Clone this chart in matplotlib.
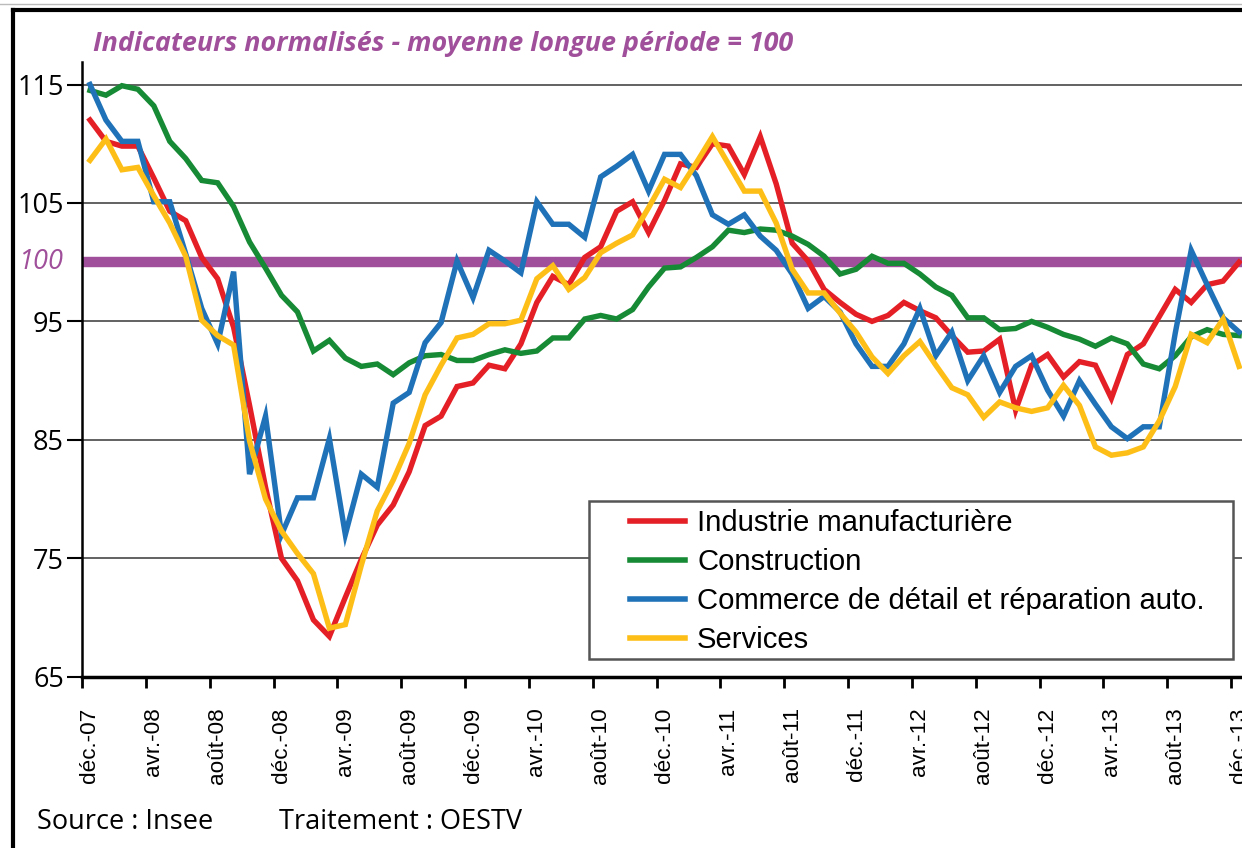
import numpy as np
import matplotlib
matplotlib.use("Agg")
import matplotlib.pyplot as plt
from matplotlib.lines import Line2D
from matplotlib.patches import Rectangle

# monthly values, déc. 2007 -> déc. 2013 (73 months)
industrie = [112.0, 110.2, 109.8, 109.8, 107.1, 104.3, 103.5, 100.4, 98.6, 94.5,
             87.9, 81.0, 75.0, 73.1, 69.8, 68.4, 71.7, 74.9, 77.8, 79.5,
             82.3, 86.2, 87.0, 89.5, 89.8, 91.3, 91.0, 93.1, 96.6, 98.8,
             98.1, 100.4, 101.3, 104.3, 105.1, 102.5, 105.2, 108.3, 108.0, 110.0,
             109.8, 107.4, 110.6, 106.6, 101.6, 100.1, 97.7, 96.6, 95.6, 95.0,
             95.5, 96.6, 95.9, 95.3, 93.8, 92.4, 92.5, 93.5, 87.5, 91.3,
             92.2, 90.3, 91.6, 91.3, 88.5, 92.2, 93.1, 95.4, 97.7, 96.6,
             98.1, 98.4, 100.0]
construction = [114.5, 114.1, 114.9, 114.6, 113.2, 110.2, 108.75, 106.9, 106.7, 104.7,
                101.7, 99.5, 97.2, 95.8, 92.5, 93.4, 91.9, 91.2, 91.4, 90.5,
                91.5, 92.1, 92.2, 91.7, 91.7, 92.2, 92.6, 92.3, 92.5, 93.6,
                93.6, 95.2, 95.5, 95.2, 96.0, 97.9, 99.5, 99.6, 100.4, 101.3,
                102.7, 102.5, 102.8, 102.7, 102.2, 101.5, 100.5, 99.0, 99.4, 100.5,
                99.9, 99.9, 99.0, 97.9, 97.2, 95.3, 95.3, 94.3, 94.4, 95.0,
                94.5, 93.9, 93.5, 92.9, 93.6, 93.1, 91.4, 91.0, 92.1, 93.7,
                94.3, 93.9, 93.8]
commerce = [115.0, 112.0, 110.2, 110.2, 105.1, 105.1, 100.7, 96.1, 93.1, 99.2,
            82.1, 87.0, 77.0, 80.1, 80.1, 85.1, 77.0, 82.1, 81.0, 88.1,
            89.0, 93.2, 94.9, 100.1, 97.0, 101.0, 100.1, 99.1, 105.1, 103.2,
            103.2, 102.1, 107.2, 108.1, 109.1, 106.0, 109.1, 109.1, 107.3, 104.0,
            103.2, 104.0, 102.2, 101.0, 99.0, 96.1, 97.1, 95.8, 93.1, 91.2,
            91.2, 93.1, 96.1, 92.1, 94.1, 90.0, 92.1, 89.0, 91.2, 92.1,
            89.2, 87.0, 90.0, 88.0, 86.1, 85.1, 86.1, 86.1, 94.0, 101.0,
            98.1, 95.3, 94.1]
services = [108.6, 110.4, 107.8, 108.0, 105.6, 103.3, 100.5, 95.1, 93.8, 93.0,
            84.9, 80.0, 77.3, 75.4, 73.7, 69.1, 69.4, 74.4, 79.0, 81.6,
            84.7, 88.8, 91.3, 93.6, 93.9, 94.8, 94.8, 95.1, 98.6, 99.7,
            97.7, 98.7, 100.8, 101.6, 102.3, 104.6, 107.0, 106.3, 108.4, 110.6,
            108.3, 106.0, 106.0, 103.3, 99.4, 97.4, 97.4, 95.7, 94.1, 92.0,
            90.6, 92.1, 93.3, 91.3, 89.4, 88.8, 86.9, 88.2, 87.7, 87.4,
            87.7, 89.6, 87.9, 84.4, 83.7, 83.9, 84.4, 86.6, 89.5, 93.9,
            93.2, 95.2, 91.2]

series_names = ["Industrie manufacturière", "Construction",
                "Commerce de détail et réparation auto.", "Services"]
tick_labels = ["déc.-07", "avr.-08", "août-08", "déc.-08", "avr.-09", "août-09",
               "déc.-09", "avr.-10", "août-10", "déc.-10", "avr.-11", "août-11",
               "déc.-11", "avr.-12", "août-12", "déc.-12", "avr.-13", "août-13",
               "déc.-13"]
y_ticks = [65, 75, 85, 95, 105, 115]

colors = ["#e41f26", "#178a35", "#1f72b8", "#fdbf17"]
purple = "#a0509a"

W, H = 1242, 848
fig = plt.figure(figsize=(W / 100, H / 100), dpi=100)
ax = fig.add_axes([82 / W, (H - 676.7) / H, 1181 / W, 614.7 / H])

x = np.arange(len(industrie))
ax.axhline(100, color=purple, lw=7.5, zorder=1.5)
for vals, name, c in zip([industrie, construction, commerce, services], series_names, colors):
    ax.plot(x, vals, color=c, lw=3.9, label=name, solid_joinstyle="miter", zorder=3)

ax.set_xlim(-0.5, 73.5)
ax.set_ylim(65, 116.9)

# y axis
ax.set_yticks(y_ticks)
ax.set_yticklabels([str(v) for v in y_ticks], fontfamily="Open Sans", fontsize=19.5)
ax.yaxis.grid(True, color="#555555", lw=1.3, zorder=1)
ax.tick_params(axis="y", length=11, width=1.5, pad=2)
ax.text(63 / W, 1 - 262 / H, "100", transform=fig.transFigure, ha="right", va="center",
        color=purple, fontsize=19.5, fontstyle="italic", fontfamily="Open Sans")

# x axis: ticks between months, labels centred on month
ax.set_xticks(np.arange(-0.5, 74, 4))
ax.set_xticklabels([])
ax.set_xticks(np.arange(0, 73, 4), minor=True)
ax.set_xticklabels(tick_labels, minor=True, rotation=90, fontfamily="Liberation Sans", fontsize=16.2)
ax.tick_params(axis="x", which="major", length=8, width=2)
ax.tick_params(axis="x", which="minor", length=0, pad=22)

for s in ["top", "right"]:
    ax.spines[s].set_visible(False)
ax.spines["left"].set_linewidth(1.8)
ax.spines["bottom"].set_linewidth(2.5)

# legend: box drawn by hand, entries placed inside it
ax.add_patch(Rectangle((589 / W, 1 - 659 / H), (1233 - 589) / W, 158 / H,
                       transform=fig.transFigure, facecolor="white", clip_on=False,
                       edgecolor="#555555", lw=1.8, zorder=4))
leg = ax.legend(loc="center left", bbox_to_anchor=(630 / W, 1 - 581.5 / H),
                bbox_transform=fig.transFigure, frameon=False, borderpad=0,
                handlelength=1.88, handletextpad=0.41, labelspacing=0.37,
                borderaxespad=0, prop={"family": "Liberation Sans", "size": 21.1})
leg.set_zorder(5)
for line in leg.get_lines():
    line.set_linewidth(4)

fig.text(93 / W, 1 - 44 / H, "Indicateurs normalisés - moyenne longue période = 100",
         color=purple, fontsize=19.4, fontweight="bold", fontstyle="italic",
         fontfamily="Open Sans", va="center", ha="left")
fig.text(37 / W, 1 - 822 / H, "Source : Insee", fontsize=19.5, fontfamily="Open Sans",
         va="center", ha="left")
fig.text(279 / W, 1 - 822 / H, "Traitement : OESTV", fontsize=19.5, fontfamily="Open Sans",
         va="center", ha="left")

# outer frame
fig.add_artist(Line2D([13 / W, 13 / W], [0, 1 - 10 / H], transform=fig.transFigure,
                      color="black", lw=3))
fig.add_artist(Line2D([13 / W, 1], [1 - 10 / H, 1 - 10 / H], transform=fig.transFigure,
                      color="black", lw=3))
fig.add_artist(Line2D([0, 1], [1 - 4 / H, 1 - 4 / H], transform=fig.transFigure,
                      color="#bbbbbb", lw=1))

fig.savefig("out.png", dpi=100)
